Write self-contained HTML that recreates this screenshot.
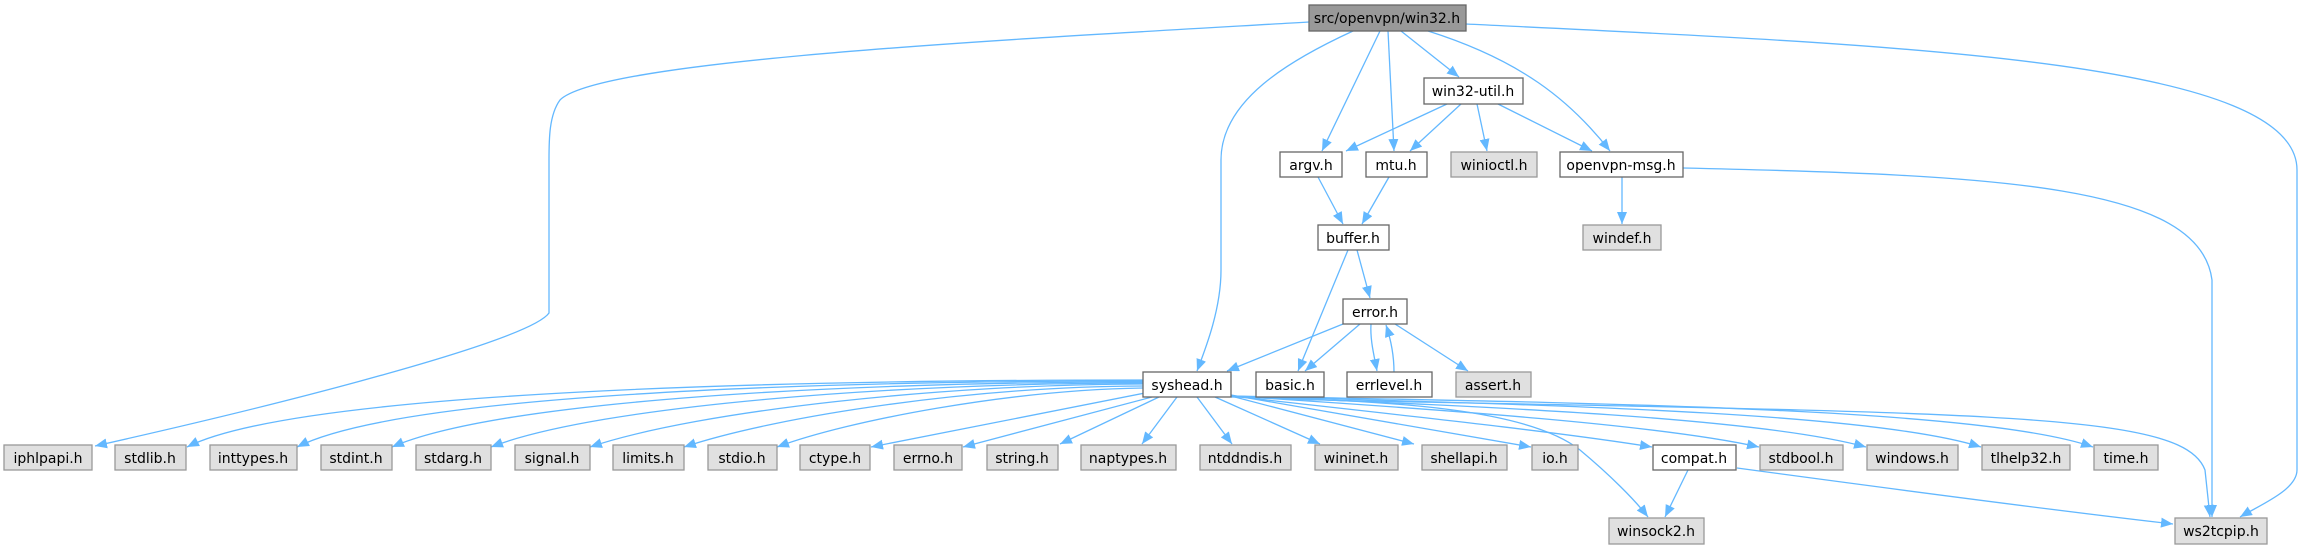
<!DOCTYPE html>
<html><head><meta charset="utf-8"><style>
html,body{margin:0;padding:0;background:#fff;}
svg{display:block;}
text{font-family:"DejaVu Sans","Liberation Sans",sans-serif;font-size:14px;text-anchor:middle;fill:#000;}
.e{fill:none;stroke:#63b8ff;stroke-width:1.3;}
.n{fill:#fff;stroke:#666;stroke-width:1.3;}
.g{fill:#e0e0e0;stroke:#999;stroke-width:1.3;}
.r{fill:#999;stroke:#666;stroke-width:1.3;}
</style></head><body>
<svg width="2302" height="549" viewBox="0 0 2302 549" xmlns="http://www.w3.org/2000/svg">
<defs>
<marker id="a" markerUnits="userSpaceOnUse" markerWidth="14" markerHeight="12" refX="12" refY="5" orient="auto">
<path d="M0,0 L12,5 L0,10 Z" fill="#63b8ff"/>
</marker>
</defs>
<g marker-end="url(#a)">
<path class="e" d="M1309,22 C1000,40 600,60 560,100 C549,115 549,140 549,160 L549,313 C530,340 300,400 95,446"/>
<path class="e" d="M1353,31 C1290,60 1221,100 1221,160 L1221,270 C1221,310 1205,350 1197,371"/>
<path class="e" d="M1380,31 L1322,151"/>
<path class="e" d="M1388,31 L1394,151"/>
<path class="e" d="M1401,31 L1459,77"/>
<path class="e" d="M1428,31 C1520,60 1570,100 1610,151"/>
<path class="e" d="M1466,24 C1900,45 2297,60 2297,170 L2297,470 C2297,490 2260,505 2240,517"/>
<path class="e" d="M1447,104 L1346,151"/>
<path class="e" d="M1461,104 L1410,151"/>
<path class="e" d="M1477,104 L1487,151"/>
<path class="e" d="M1498,104 L1592,151"/>
<path class="e" d="M1622,177 L1622,224"/>
<path class="e" d="M1683,168 C2000,175 2200,185 2212,280 L2212,517"/>
<path class="e" d="M1318,177 L1343,224"/>
<path class="e" d="M1389,177 L1362,224"/>
<path class="e" d="M1357,250 L1370,298"/>
<path class="e" d="M1348,250 L1298,371"/>
<path class="e" d="M1343,324 L1227,371"/>
<path class="e" d="M1360,324 L1305,371"/>
<path class="e" d="M1371,324 C1370,340 1374,355 1377,371"/>
<path class="e" d="M1394,372 C1394,355 1391,340 1386,325"/>
<path class="e" d="M1395,324 L1468,371"/>
<path class="e" d="M1143,380 C800,380 300,390 187,447"/>
<path class="e" d="M1143,381 C800,381 400,395 297,447"/>
<path class="e" d="M1143,382 C850,382 500,400 392,447"/>
<path class="e" d="M1143,383 C900,383 600,405 491,447"/>
<path class="e" d="M1143,384 C950,384 700,410 590,447"/>
<path class="e" d="M1143,386 C980,386 780,415 684,447"/>
<path class="e" d="M1143,388 C1010,390 850,420 777,447"/>
<path class="e" d="M1145,393 L871,447"/>
<path class="e" d="M1152,397 L963,447"/>
<path class="e" d="M1159,397 L1060,444"/>
<path class="e" d="M1177,397 L1142,444"/>
<path class="e" d="M1197,397 L1232,444"/>
<path class="e" d="M1215,397 L1320,444"/>
<path class="e" d="M1231,396 L1414,444"/>
<path class="e" d="M1231,395 L1531,447"/>
<path class="e" d="M1231,396 C1400,415 1560,432 1652,447"/>
<path class="e" d="M1231,396 C1450,410 1660,425 1759,447"/>
<path class="e" d="M1231,396 C1500,407 1760,418 1866,447"/>
<path class="e" d="M1231,396 C1550,405 1870,412 1981,447"/>
<path class="e" d="M1231,396 C1600,403 1980,408 2093,447"/>
<path class="e" d="M1231,397 C1400,400 1530,410 1580,450 C1610,475 1635,500 1648,517"/>
<path class="e" d="M1231,396 C1300,402 1500,402 1800,410 C2100,418 2190,430 2205,470 L2210,517"/>
<path class="e" d="M1688,470 L1665,517"/>
<path class="e" d="M1737,468 C1900,490 2050,510 2173,524"/>
</g>
<rect class="r" x="1309" y="5" width="157" height="26"/><text x="1387" y="23">src/openvpn/win32.h</text>
<rect class="n" x="1424" y="78" width="99" height="26"/><text x="1473" y="96">win32-util.h</text>
<rect class="n" x="1280" y="152" width="62" height="25"/><text x="1311" y="170">argv.h</text>
<rect class="n" x="1366" y="152" width="61" height="25"/><text x="1396" y="170">mtu.h</text>
<rect class="g" x="1451" y="152" width="86" height="25"/><text x="1494" y="170">winioctl.h</text>
<rect class="n" x="1560" y="152" width="123" height="25"/><text x="1621" y="170">openvpn-msg.h</text>
<rect class="n" x="1318" y="225" width="71" height="25"/><text x="1353" y="243">buffer.h</text>
<rect class="g" x="1583" y="225" width="78" height="25"/><text x="1622" y="243">windef.h</text>
<rect class="n" x="1343" y="299" width="64" height="25"/><text x="1375" y="317">error.h</text>
<rect class="n" x="1143" y="372" width="88" height="25"/><text x="1187" y="390">syshead.h</text>
<rect class="n" x="1256" y="372" width="68" height="25"/><text x="1290" y="390">basic.h</text>
<rect class="n" x="1347" y="372" width="85" height="25"/><text x="1389" y="390">errlevel.h</text>
<rect class="g" x="1456" y="372" width="75" height="25"/><text x="1493" y="390">assert.h</text>
<g>
<rect class="g" x="4" y="445" width="88" height="25"/><text x="48" y="463">iphlpapi.h</text>
<rect class="g" x="115" y="445" width="71" height="25"/><text x="150" y="463">stdlib.h</text>
<rect class="g" x="210" y="445" width="87" height="25"/><text x="253" y="463">inttypes.h</text>
<rect class="g" x="321" y="445" width="71" height="25"/><text x="356" y="463">stdint.h</text>
<rect class="g" x="416" y="445" width="75" height="25"/><text x="453" y="463">stdarg.h</text>
<rect class="g" x="515" y="445" width="75" height="25"/><text x="552" y="463">signal.h</text>
<rect class="g" x="613" y="445" width="71" height="25"/><text x="648" y="463">limits.h</text>
<rect class="g" x="708" y="445" width="69" height="25"/><text x="742" y="463">stdio.h</text>
<rect class="g" x="800" y="445" width="70" height="25"/><text x="835" y="463">ctype.h</text>
<rect class="g" x="894" y="445" width="68" height="25"/><text x="928" y="463">errno.h</text>
<rect class="g" x="987" y="445" width="71" height="25"/><text x="1022" y="463">string.h</text>
<rect class="g" x="1081" y="445" width="95" height="25"/><text x="1128" y="463">naptypes.h</text>
<rect class="g" x="1200" y="445" width="91" height="25"/><text x="1245" y="463">ntddndis.h</text>
<rect class="g" x="1315" y="445" width="83" height="25"/><text x="1356" y="463">wininet.h</text>
<rect class="g" x="1422" y="445" width="85" height="25"/><text x="1464" y="463">shellapi.h</text>
<rect class="g" x="1532" y="445" width="46" height="25"/><text x="1555" y="463">io.h</text>
<rect class="n" x="1653" y="445" width="83" height="25"/><text x="1694" y="463">compat.h</text>
<rect class="g" x="1760" y="445" width="83" height="25"/><text x="1801" y="463">stdbool.h</text>
<rect class="g" x="1867" y="445" width="91" height="25"/><text x="1912" y="463">windows.h</text>
<rect class="g" x="1982" y="445" width="88" height="25"/><text x="2026" y="463">tlhelp32.h</text>
<rect class="g" x="2094" y="445" width="64" height="25"/><text x="2126" y="463">time.h</text>
</g>
<rect class="g" x="1609" y="518" width="95" height="26"/><text x="1656" y="536">winsock2.h</text>
<rect class="g" x="2175" y="518" width="92" height="26"/><text x="2221" y="536">ws2tcpip.h</text>
</svg>
</body></html>
